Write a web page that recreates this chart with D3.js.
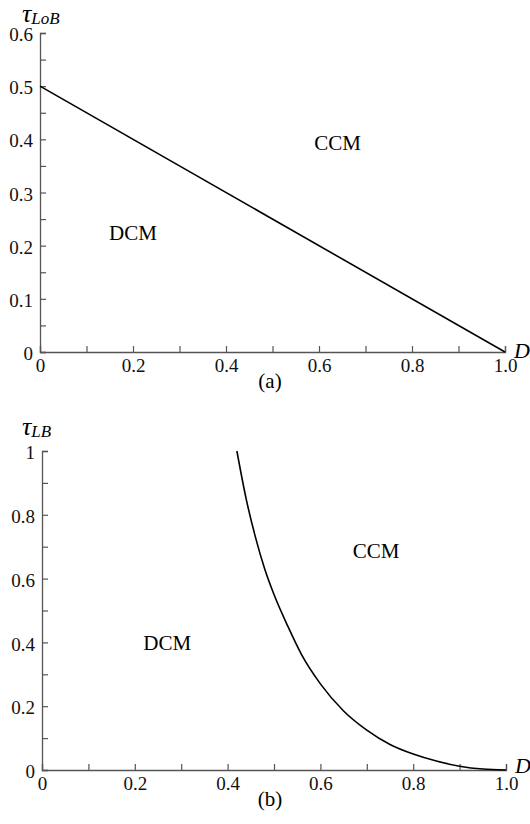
<html>
<script src="https://cdn.jsdelivr.net/npm/d3@7"></script>
<body style="margin:0;background:#fff">
<svg id="chart" width="530" height="824"></svg>
<script>
// panel (a): boundary line tau_LoB vs D
var lineA = [[0, 0.5], [1.0, 0]];
// panel (b): boundary curve tau_LB vs D
var curveB = [[0.42, 1.0], [0.44, 0.85], [0.46, 0.73], [0.48, 0.63], [0.50, 0.55],
              [0.53, 0.45], [0.56, 0.36], [0.60, 0.27], [0.65, 0.185], [0.70, 0.125],
              [0.75, 0.08], [0.80, 0.05], [0.85, 0.028], [0.90, 0.012], [0.95, 0.003], [1.0, 0]];

var xTicks = [0, 0.1, 0.2, 0.3, 0.4, 0.5, 0.6, 0.7, 0.8, 0.9, 1.0];
var xLabels = [0, 0.2, 0.4, 0.6, 0.8, 1.0];
var yTicksA = [0, 0.05, 0.1, 0.15, 0.2, 0.25, 0.3, 0.35, 0.4, 0.45, 0.5, 0.55, 0.6];
var yLabelsA = [0, 0.1, 0.2, 0.3, 0.4, 0.5, 0.6];
var yTicksB = [0, 0.1, 0.2, 0.3, 0.4, 0.5, 0.6, 0.7, 0.8, 0.9, 1.0];
var yLabelsB = [0, 0.2, 0.4, 0.6, 0.8, 1.0];

var svg = d3.select("#chart");
var font = "Liberation Serif";

function has(arr, v) {
    return arr.some(function(a) { return Math.abs(a - v) < 1e-9; });
}

function panel(opt) {
    var x = d3.scaleLinear().domain([0, 1]).range([opt.x0, opt.x1]);
    var y = d3.scaleLinear().domain([0, opt.ymax]).range([opt.y0, opt.y1]);

    var gx = svg.append("g")
        .attr("transform", "translate(0," + opt.y0 + ")")
        .call(d3.axisBottom(x)
            .tickValues(xTicks)
            .tickSize(-6)
            .tickPadding(4)
            .tickFormat(function(d) {
                if (!has(xLabels, d)) return "";
                return d == 1 ? "1.0" : d == 0 ? "0" : d3.format(".1f")(d);
            }));

    var gy = svg.append("g")
        .attr("transform", "translate(" + opt.x0 + ",0)")
        .call(d3.axisLeft(y)
            .tickValues(opt.yTicks)
            .tickSize(-6)
            .tickPadding(7)
            .tickFormat(function(d) {
                if (!has(opt.yLabels, d)) return "";
                return opt.yfmt(d);
            }));

    [gx, gy].forEach(function(g) {
        g.select(".domain").attr("stroke", "#555").attr("stroke-width", 1.3);
        g.selectAll(".tick line").attr("stroke", "#555").attr("stroke-width", 1.2);
        g.selectAll(".tick text").attr("fill", "#111")
            .style("font-family", font).style("font-size", "19px");
    });
    gy.selectAll(".tick text").attr("dy", "0.4em");
    gx.selectAll(".tick text").attr("dy", "0.85em");

    svg.append("path")
        .datum(opt.data)
        .attr("fill", "none")
        .attr("stroke", "#000")
        .attr("stroke-width", 1.6)
        .attr("d", d3.line().curve(d3.curveMonotoneX)
            .x(function(d) { return x(d[0]); })
            .y(function(d) { return y(d[1]); }));

    // axis names
    svg.append("text")
        .attr("x", opt.x1 + 9).attr("y", opt.y0 + opt.dy)
        .style("font-family", font).style("font-size", "22px").style("font-style", "italic")
        .text("D");

    var t = svg.append("text")
        .attr("x", 22).attr("y", opt.y1 - opt.ty)
        .style("font-family", font).style("font-style", "italic");
    t.append("tspan").style("font-size", "26px").text("τ");
    t.append("tspan").style("font-size", "17px").attr("dy", 2).text(opt.sub);

    // region labels
    [["CCM", opt.ccm], ["DCM", opt.dcm]].forEach(function(r) {
        svg.append("text")
            .attr("x", x(r[1][0])).attr("y", y(r[1][1]))
            .attr("text-anchor", "middle")
            .style("font-family", font).style("font-size", "21px")
            .text(r[0]);
    });

    svg.append("text")
        .attr("x", 270).attr("y", opt.y0 + 36)
        .attr("text-anchor", "middle")
        .style("font-family", font).style("font-size", "21px")
        .text(opt.caption);
}

panel({
    x0: 40, x1: 505, y0: 352, y1: 33, ymax: 0.6, dy: 6, ty: 11,
    yTicks: yTicksA, yLabels: yLabelsA,
    yfmt: function(d) { return d == 0 ? "0" : d3.format(".1f")(d); },
    data: lineA, sub: "LoB",
    ccm: [0.64, 0.38], dcm: [0.2, 0.21], caption: "(a)"
});

panel({
    x0: 42, x1: 506, y0: 770, y1: 451, ymax: 1, dy: 3, ty: 16,
    yTicks: yTicksB, yLabels: yLabelsB,
    yfmt: function(d) { return d == 0 ? "0" : d == 1 ? "1" : d3.format(".1f")(d); },
    data: curveB, sub: "LB",
    ccm: [0.72, 0.665], dcm: [0.27, 0.375], caption: "(b)"
});
</script>
</body>
</html>
